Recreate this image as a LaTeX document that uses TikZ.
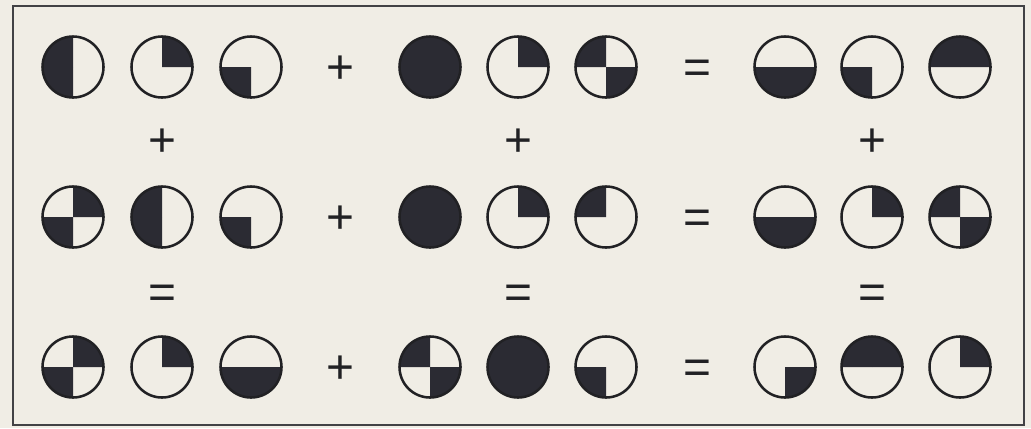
\documentclass[tikz,border=0pt]{standalone}
\usepackage{fontspec}
\setsansfont{Liberation Sans}
\usetikzlibrary{positioning}
\definecolor{Paper}{rgb}{0.94, 0.93, 0.90}
\definecolor{Ink}{rgb}{0.17, 0.17, 0.20}
\definecolor{RimGray}{rgb}{0.13, 0.13, 0.14}
\newcommand{\rdisc}{0.7625cm}

\begin{document}
\begin{tikzpicture}[
    x=0.025cm, y=-0.025cm,
    disc/.style={circle, inner sep=0pt, minimum size=2*\rdisc},
    rim/.style={draw=RimGray, line width=1.8pt},
    sign/.style={font=\sffamily\fontsize{34}{40}\selectfont, text=RimGray,
        inner sep=0pt, text height=23.8pt, text depth=0pt},
    frame/.style={draw=RimGray!85, line width=1.4pt},
]

% papel y marco
\fill[Paper] (0,0) rectangle (1031,428);
\useasboundingbox (0,0) rectangle (1031,428);
\draw[frame] (13,6) rectangle (1024,425);

% discos: x / y / NE / NW / SW / SE
\foreach \px/\py/\ne/\nw/\sw/\se [count=\i] in {
    73/67/0/1/1/0, 162/67/1/0/0/0, 251/67/0/0/1/0,
    430/67/1/1/1/1, 518/67/1/0/0/0, 606/67/0/1/0/1,
    785/67/0/0/1/1, 872/67/0/0/1/0, 960/67/1/1/0/0,
    % fila 2
    73/217/1/0/1/0, 162/217/0/1/1/0, 251/217/0/0/1/0,
    430/217/1/1/1/1, 518/217/1/0/0/0, 606/217/0/1/0/0,
    785/217/0/0/1/1, 872/217/1/0/0/0, 960/217/0/1/0/1,
    % fila 3
    73/367/1/0/1/0, 162/367/1/0/0/0, 251/367/0/0/1/1,
    430/367/0/1/0/1, 518/367/1/1/1/1, 606/367/0/0/1/0,
    785/367/0/0/0/1, 872/367/1/1/0/0, 960/367/1/0/0/0}
{
    \node[disc] (c\i) at (\px,\py) {};
    \foreach \q/\a in {\ne/0, \nw/90, \sw/180, \se/270} {
        \ifnum\q=1
            \fill[Ink] (c\i.center) -- ++(\a:\rdisc)
                arc[start angle=\a, delta angle=90, radius=\rdisc] -- cycle;
        \fi
    }
    \draw[rim] (c\i.center) circle[radius=\rdisc];
}

% signos en las filas
\foreach \py [count=\j] in {67, 217, 367} {
    \node[sign] (p\j) at (340,\py) {+};
    \node[sign] (e\j) at (697,\py) {=};
}

% signos entre filas
\foreach \px [count=\j] in {162, 518, 872} {
    \node[sign] (vp\j) at (\px,140) {+};
    \node[sign] (ve\j) at (\px,292) {=};
}

\end{tikzpicture}
\end{document}
